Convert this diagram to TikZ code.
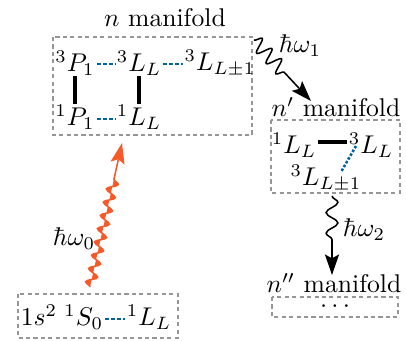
\documentclass[tikz,border=0pt]{standalone}
\usetikzlibrary{decorations.pathmorphing,arrows.meta,calc}
\definecolor{dblue}{RGB}{0,100,155}
\definecolor{orng}{RGB}{245,90,40}
\definecolor{bgray}{RGB}{150,150,150}
\begin{document}
\begin{tikzpicture}[x=0.39pt,y=-0.39pt,
  mbox/.style={draw=bgray,line width=0.8pt,dash pattern=on 1.6pt off 1.3pt},
  lvl/.style={inner sep=0.5pt},
  mlab/.style={inner sep=0.5pt},
  blued/.style={draw=dblue,line width=1pt,dash pattern=on 1.6pt off 0.8pt},
  bluedot/.style={draw=dblue,line width=1pt,dash pattern=on 1pt off 0.7pt},
  coup/.style={draw=black,line width=1.2pt},
  photon/.style={line width=0.6pt,decorate,
    -{Stealth[length=8pt,width=5.5pt,inset=1.5pt]}}]
\useasboundingbox (0,0) rectangle (406,341);
% n manifold
\node[mlab] (nlab) at (165,18) {$n$ manifold};
\draw[mbox] (53,37) rectangle (252,135);
\node[lvl] (tP) at (75,63) {${}^3P_1$};
\node[lvl] (tL) at (139,63) {${}^3L_L$};
\node[lvl] (tLpm) at (220,63) {${}^3L_{L\pm1}$};
\node[lvl] (sP) at (75,117) {${}^1P_1$};
\node[lvl] (sL) at (139,117) {${}^1L_L$};
\draw[blued] ($(tP.east)+(0,1)$) -- ($(tL.west)+(0,1)$);
\draw[blued] ($(tL.east)+(0,1)$) -- ($(tLpm.west)+(0,1)$);
\draw[blued] ($(sP.east)+(0,2)$) -- ($(sL.west)+(0,2)$);
\draw[coup] ($(tP.south)+(0,-1)$) -- ($(sP.north)+(0,1)$);
\draw[coup] ($(tL.south)+(0,-1)$) -- ($(sL.north)+(0,1)$);
% n' manifold
\node[mlab] (nplab) at (336,107) {$n'$ manifold};
\draw[mbox] (271,120) rectangle (400,193);
\node[lvl] (a1) at (294,145) {${}^1L_L$};
\node[lvl] (a2) at (371,145) {${}^3L_L$};
\node[lvl] (a3) at (326,178) {${}^3L_{L\pm1}$};
\draw[coup] ($(a1.east)+(0,-3)$) -- ($(a2.west)+(0,-3)$);
\coordinate (d1) at (356,146);
\coordinate (d2) at (341,172);
\draw[bluedot] (d1) -- (d2);
% n'' manifold
\node[mlab] (npplab) at (334,283) {$n''$ manifold};
\draw[mbox] (272,297) rectangle (398,317);
\node[inner sep=0pt] (dots) at (335,307) {$\cdots$};
% ground
\draw[mbox] (18,294) rectangle (178,338);
\node[lvl] (g1) at (62,317) {$1s^2\;{}^1S_0$};
\node[lvl] (g2) at (149,317) {${}^1L_L$};
\draw[blued] ($(g1.east)+(0,2)$) -- ($(g2.west)+(0,2)$);
% photons
\coordinate (w0a) at (90,287);
\coordinate (w0b) at (122,143);
\draw[photon,draw=orng,fill=orng,decoration={snake,amplitude=2.1pt,segment length=5.3pt,post length=12pt}] (w0a) -- (w0b);
\node (h0) at (74,239) {$\hbar\omega_0$};
\coordinate (w1a) at (254,40);
\coordinate (w1b) at (311,101);
\draw[photon,decoration={snake,amplitude=2.8pt,segment length=5.5pt,post length=15pt}] (w1a) -- (w1b);
\node (h1) at (300,46) {$\hbar\omega_1$};
\coordinate (w2a) at (332,196);
\coordinate (w2b) at (332,275);
\draw[photon,decoration={snake,amplitude=2.3pt,segment length=8pt,post length=11pt}] (w2a) -- (w2b);
\node (h2) at (364,230) {$\hbar\omega_2$};
\end{tikzpicture}
\end{document}
